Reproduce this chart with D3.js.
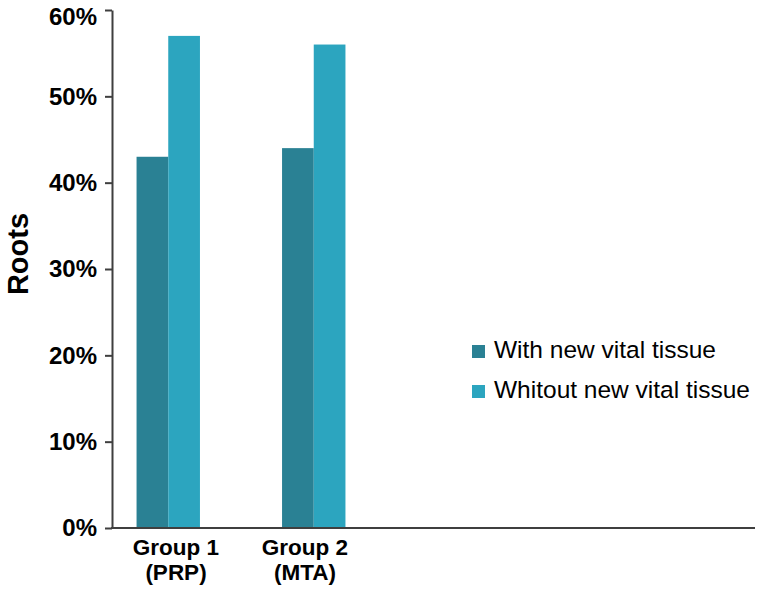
<!DOCTYPE html>
<html>
<head>
<meta charset="utf-8">
<script src="https://cdn.jsdelivr.net/npm/d3@7"></script>
<style>
  html, body { margin: 0; padding: 0; background: #fff; }
  svg { display: block; }
  text { font-family: "Liberation Sans", Arial, Helvetica, sans-serif; }
</style>
</head>
<body>
<svg id="chart" width="771" height="590"></svg>
<script>
// ---- data ----
const groups = ["Group 1|(PRP)", "Group 2|(MTA)"];
const seriesNames = ["With new vital tissue", "Whitout new vital tissue"];
const withNew = [0.43, 0.44];
const withoutNew = [0.57, 0.56];
const yTicks = [0, 0.1, 0.2, 0.3, 0.4, 0.5, 0.6];
const colors = ["#2a8194", "#2ca5bf"];
const yLabel = "Roots";

const seriesValues = [withNew, withoutNew];

const svg = d3.select("#chart");
const axisColor = "#3f3f3f";

const y = d3.scaleLinear().domain([0, 0.6]).range([528, 10]);
const x0 = d3.scaleBand().domain(groups).range([95.5, 386.5]).padding(0);
const groupWidth = 63.4;
const x1 = d3.scaleBand().domain(seriesNames).range([0, groupWidth]).padding(0);
// category labels sit on their own point scale (as in the original layout)
const xLabel = d3.scalePoint().domain(groups).range([176, 305]);

// bars
groups.forEach((g, gi) => {
  const gx = x0(g) + (x0.bandwidth() - groupWidth) / 2;
  seriesNames.forEach((s, si) => {
    const v = seriesValues[si][gi];
    svg.append("rect")
      .attr("x", gx + x1(s))
      .attr("y", y(v))
      .attr("width", x1.bandwidth())
      .attr("height", y(0) - y(v))
      .attr("fill", colors[si]);
  });
});

// y axis
const yAxis = d3.axisLeft(y)
  .tickValues(yTicks)
  .tickFormat(d3.format(".0%"))
  .tickSize(7)
  .tickSizeOuter(0)
  .tickPadding(8);
const yg = svg.append("g").attr("transform", "translate(112,0)").call(yAxis);
yg.select(".domain").attr("stroke", axisColor).attr("stroke-width", 2);
yg.selectAll(".tick line").attr("stroke", axisColor).attr("stroke-width", 2);
yg.selectAll(".tick text")
  .attr("fill", "#000")
  .style("font-size", "24px")
  .style("font-weight", "bold");
// top label sits a little below its tick so it stays inside the picture
yg.selectAll(".tick text").filter(d => d === 0.6).attr("dy", "0.62em");

// x axis line
svg.append("line")
  .attr("x1", 111).attr("x2", 755)
  .attr("y1", y(0)).attr("y2", y(0))
  .attr("stroke", axisColor).attr("stroke-width", 2);

// x labels
groups.forEach(g => {
  const cx = xLabel(g);
  const lines = g.split("|");
  lines.forEach((ln, i) => {
    svg.append("text")
      .attr("x", cx).attr("y", 555 + i * 25)
      .attr("text-anchor", "middle")
      .attr("fill", "#000")
      .style("font-size", "22.5px")
      .style("font-weight", "bold")
      .text(ln);
  });
});

// y label
svg.append("text")
  .attr("transform", "translate(28,254) rotate(-90)")
  .attr("text-anchor", "middle")
  .attr("fill", "#000")
  .style("font-size", "29px")
  .style("font-weight", "bold")
  .text(yLabel);

// legend
seriesNames.forEach((s, i) => {
  const ly = 358 + i * 40;
  svg.append("rect")
    .attr("x", 472).attr("y", ly - 13)
    .attr("width", 13).attr("height", 13)
    .attr("fill", colors[i]);
  svg.append("text")
    .attr("x", 494).attr("y", ly)
    .attr("fill", "#000")
    .style("font-size", "24.5px")
    .text(s);
});
</script>
</body>
</html>
